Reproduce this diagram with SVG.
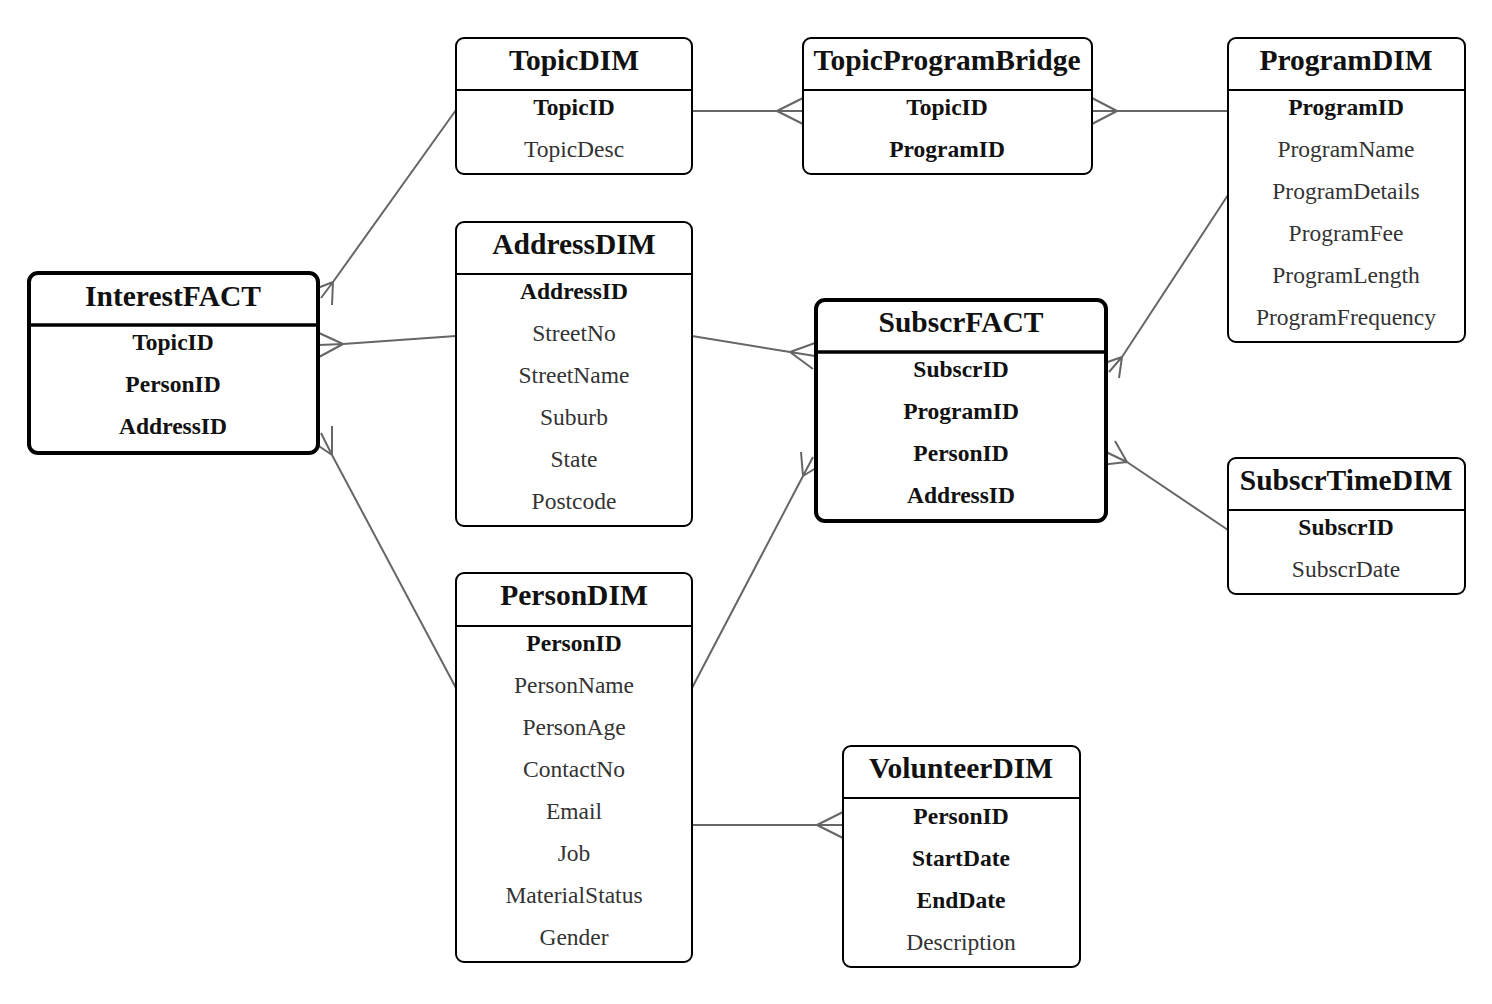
<svg xmlns="http://www.w3.org/2000/svg" width="1492" height="1004" viewBox="0 0 1492 1004">
<style>
.box{fill:#fff;stroke:#000;stroke-width:2}
.fact{fill:#fff;stroke:#000;stroke-width:4}
.hl{stroke:#000;stroke-width:2}
.hlf{stroke:#000;stroke-width:3.5}
.t{font-family:"Liberation Serif",serif;font-size:29.5px;font-weight:bold;fill:#111;text-anchor:middle;dominant-baseline:central}
.k{font-family:"Liberation Serif",serif;font-size:23.5px;font-weight:bold;fill:#111;text-anchor:middle;dominant-baseline:central}
.f{font-family:"Liberation Serif",serif;font-size:23.5px;fill:#333;text-anchor:middle;dominant-baseline:central}
.c{fill:none;stroke:#666;stroke-width:2}
</style>
<rect width="1492" height="1004" fill="#fff"/>
<g id="connectors" class="c">
<path d="M456,110 L333,282 M333,282 L310,291 M333,282 L332,305 M333,282 L321,298"/>
<path d="M692,111 L777,111 M777,111 L803,98 M777,111 L803,124 M777,111 L803,111"/>
<path d="M1228,111 L1117,111 M1117,111 L1092,98 M1117,111 L1092,124 M1117,111 L1092,111"/>
<path d="M456,336 L343,344 M343,344 L319,333 M343,344 L319,357 M343,344 L319,345"/>
<path d="M456,688 L332,455 M332,455 L310,440 M332,455 L332,426 M332,455 L321,433"/>
<path d="M692,336 L790,352 M790,352 L815,343 M790,352 L813,369 M790,352 L815,356"/>
<path d="M692,688 L803,476 M803,476 L801,452 M803,476 L824,463 M803,476 L813,457"/>
<path d="M1228,195 L1122,357 M1122,357 L1099,365 M1122,357 L1119,378 M1122,357 L1109,372"/>
<path d="M1228,530 L1127,462 M1127,462 L1115,441 M1127,462 L1100,465 M1127,462 L1106,452"/>
<path d="M692,825 L817,825 M817,825 L843,812 M817,825 L843,838 M817,825 L843,825"/>
</g>
<g id="TopicDIM">
<rect class="box" x="456" y="38" width="236" height="136" rx="8"/>
<line class="hl" x1="456" y1="90" x2="692" y2="90"/>
<text class="t" x="574" y="60">TopicDIM</text>
<text class="k" x="574" y="107">TopicID</text>
<text class="f" x="574" y="149">TopicDesc</text>
</g>
<g id="TopicProgramBridge">
<rect class="box" x="803" y="38" width="289" height="136" rx="8"/>
<line class="hl" x1="803" y1="90" x2="1092" y2="90"/>
<text class="t" x="947" y="60">TopicProgramBridge</text>
<text class="k" x="947" y="107">TopicID</text>
<text class="k" x="947" y="149">ProgramID</text>
</g>
<g id="ProgramDIM">
<rect class="box" x="1228" y="38" width="237" height="304" rx="8"/>
<line class="hl" x1="1228" y1="90" x2="1465" y2="90"/>
<text class="t" x="1346" y="60">ProgramDIM</text>
<text class="k" x="1346" y="107">ProgramID</text>
<text class="f" x="1346" y="149">ProgramName</text>
<text class="f" x="1346" y="191">ProgramDetails</text>
<text class="f" x="1346" y="233">ProgramFee</text>
<text class="f" x="1346" y="275">ProgramLength</text>
<text class="f" x="1346" y="317">ProgramFrequency</text>
</g>
<g id="InterestFACT">
<rect class="fact" x="29" y="273" width="289" height="180" rx="9"/>
<line class="hlf" x1="29" y1="325" x2="318" y2="325"/>
<text class="t" x="173" y="296">InterestFACT</text>
<text class="k" x="173" y="342">TopicID</text>
<text class="k" x="173" y="384">PersonID</text>
<text class="k" x="173" y="426">AddressID</text>
</g>
<g id="AddressDIM">
<rect class="box" x="456" y="222" width="236" height="304" rx="8"/>
<line class="hl" x1="456" y1="274" x2="692" y2="274"/>
<text class="t" x="574" y="244">AddressDIM</text>
<text class="k" x="574" y="291">AddressID</text>
<text class="f" x="574" y="333">StreetNo</text>
<text class="f" x="574" y="375">StreetName</text>
<text class="f" x="574" y="417">Suburb</text>
<text class="f" x="574" y="459">State</text>
<text class="f" x="574" y="501">Postcode</text>
</g>
<g id="SubscrFACT">
<rect class="fact" x="816" y="300" width="290" height="221" rx="9"/>
<line class="hlf" x1="816" y1="352" x2="1106" y2="352"/>
<text class="t" x="961" y="322">SubscrFACT</text>
<text class="k" x="961" y="369">SubscrID</text>
<text class="k" x="961" y="411">ProgramID</text>
<text class="k" x="961" y="453">PersonID</text>
<text class="k" x="961" y="495">AddressID</text>
</g>
<g id="SubscrTimeDIM">
<rect class="box" x="1228" y="458" width="237" height="136" rx="8"/>
<line class="hl" x1="1228" y1="510" x2="1465" y2="510"/>
<text class="t" x="1346" y="480">SubscrTimeDIM</text>
<text class="k" x="1346" y="527">SubscrID</text>
<text class="f" x="1346" y="569">SubscrDate</text>
</g>
<g id="PersonDIM">
<rect class="box" x="456" y="573" width="236" height="389" rx="8"/>
<line class="hl" x1="456" y1="626" x2="692" y2="626"/>
<text class="t" x="574" y="595">PersonDIM</text>
<text class="k" x="574" y="643">PersonID</text>
<text class="f" x="574" y="685">PersonName</text>
<text class="f" x="574" y="727">PersonAge</text>
<text class="f" x="574" y="769">ContactNo</text>
<text class="f" x="574" y="811">Email</text>
<text class="f" x="574" y="853">Job</text>
<text class="f" x="574" y="895">MaterialStatus</text>
<text class="f" x="574" y="937">Gender</text>
</g>
<g id="VolunteerDIM">
<rect class="box" x="843" y="746" width="237" height="221" rx="8"/>
<line class="hl" x1="843" y1="798" x2="1080" y2="798"/>
<text class="t" x="961" y="768">VolunteerDIM</text>
<text class="k" x="961" y="816">PersonID</text>
<text class="k" x="961" y="858">StartDate</text>
<text class="k" x="961" y="900">EndDate</text>
<text class="f" x="961" y="942">Description</text>
</g>
</svg>
